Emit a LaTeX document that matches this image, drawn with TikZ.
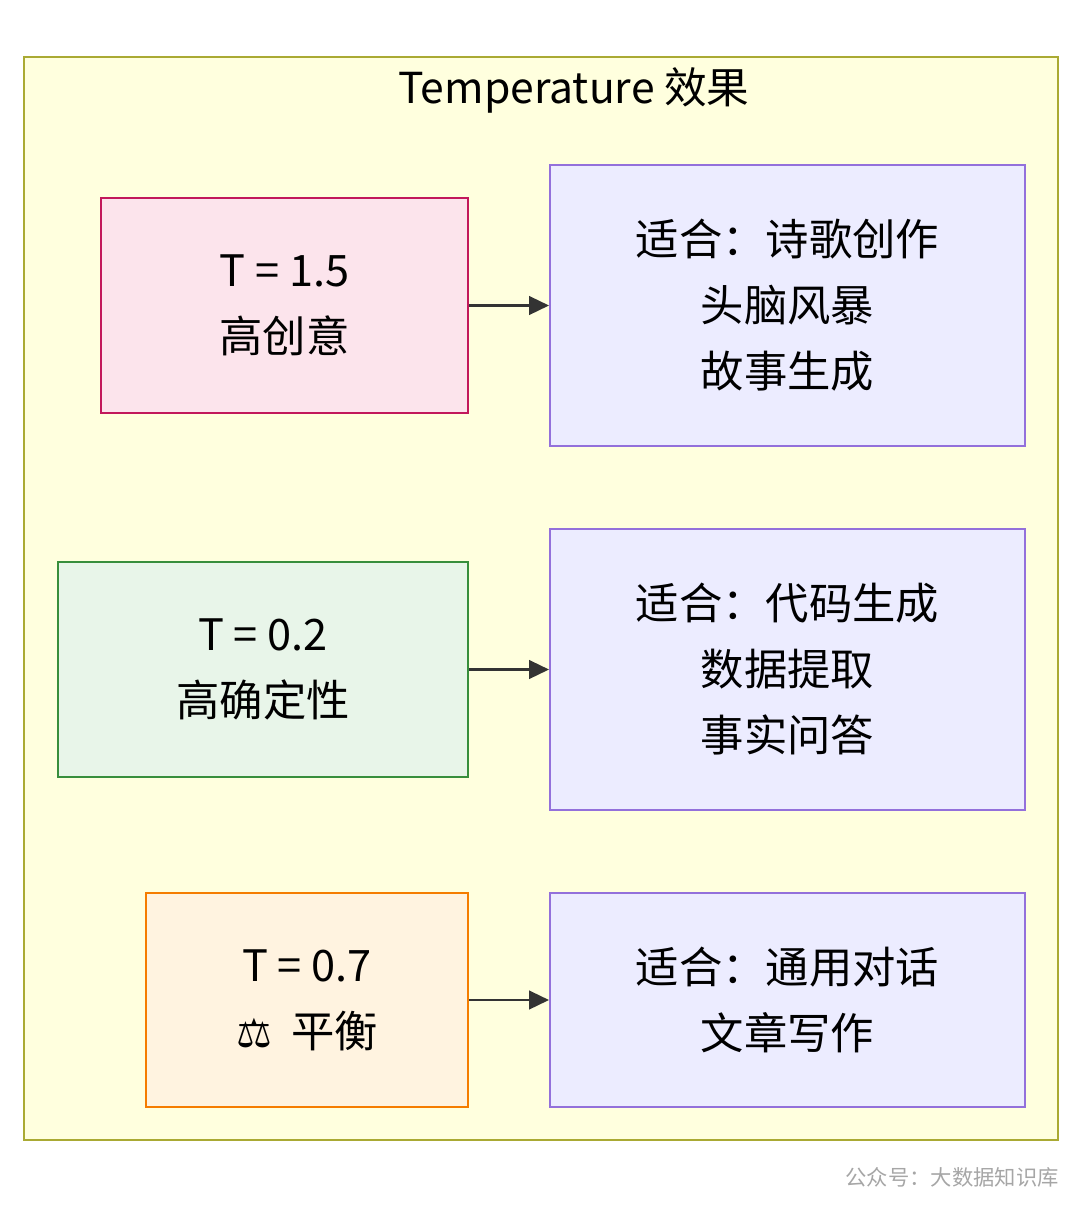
\documentclass[tikz,border=0pt]{standalone}
\usepackage{fontspec}
\setmainfont{Noto Sans CJK SC}
\newfontfamily\symfont{DejaVu Sans}
\usetikzlibrary{arrows.meta}
\definecolor{groupfill}{HTML}{FFFFDE}
\definecolor{groupline}{HTML}{AAAA33}
\definecolor{usefill}{HTML}{ECECFF}
\definecolor{useline}{HTML}{9370DB}
\definecolor{hotfill}{HTML}{FCE4EC}
\definecolor{hotline}{HTML}{C2185B}
\definecolor{coldfill}{HTML}{E8F5E9}
\definecolor{coldline}{HTML}{388E3C}
\definecolor{midfill}{HTML}{FFF3E0}
\definecolor{midline}{HTML}{F57C00}
\begin{document}
\begin{tikzpicture}[x=0.75pt, y=-0.75pt]
\tikzstyle{box} = [ rectangle, draw, line width=1.5pt, font=\fontsize{32.5}{49.5}\selectfont, align=center ]
\tikzstyle{use} = [ box, fill=usefill, draw=useline ]
\tikzstyle{line} = [ draw, line width=1.8pt, color=black!80, -{Triangle[length=15pt,width=14pt]} ]
\useasboundingbox (0,0) rectangle (1080,1207);
% group
\draw [fill=groupfill, draw=groupline, line width=1.5pt] (24,57) rectangle (1058,1140);
\node [font=\fontsize{32}{36}\selectfont] (title) at (574,90) {Temperature 效果};
% place nodes
\node [box, fill=hotfill, draw=hotline, minimum width=275.25pt, minimum height=161.25pt] (hot) at (284.5,305.5) {T = 1.5\\高创意};
\node [box, fill=coldfill, draw=coldline, minimum width=307.5pt, minimum height=161.25pt] (cold) at (263,669.5) {T = 0.2\\高确定性};
\node [box, fill=midfill, draw=midline, minimum width=241.5pt, minimum height=160.5pt] (mid) at (307,1000) {T = 0.7\\{\symfont\fontsize{30}{36}\selectfont ⚖}\ \ 平衡};
\node [use, minimum width=356.25pt, minimum height=210.75pt] (use-hot) at (787.5,305.5) {适合：诗歌创作\\头脑风暴\\故事生成};
\node [use, minimum width=356.25pt, minimum height=210.75pt] (use-cold) at (787.5,669.5) {适合：代码生成\\数据提取\\事实问答};
\node [use, minimum width=356.25pt, minimum height=160.5pt] (use-mid) at (787.5,1000) {适合：通用对话\\文章写作};
\node [font=\fontsize{16}{18}\selectfont, text=black!35] (mark) at (952,1177) {公众号：大数据知识库};
% draw edges
\path [line] (hot) -- (use-hot);
\path [line] (cold) -- (use-cold);
\path [line] (mid) -- (use-mid);
\end{tikzpicture}
\end{document}
